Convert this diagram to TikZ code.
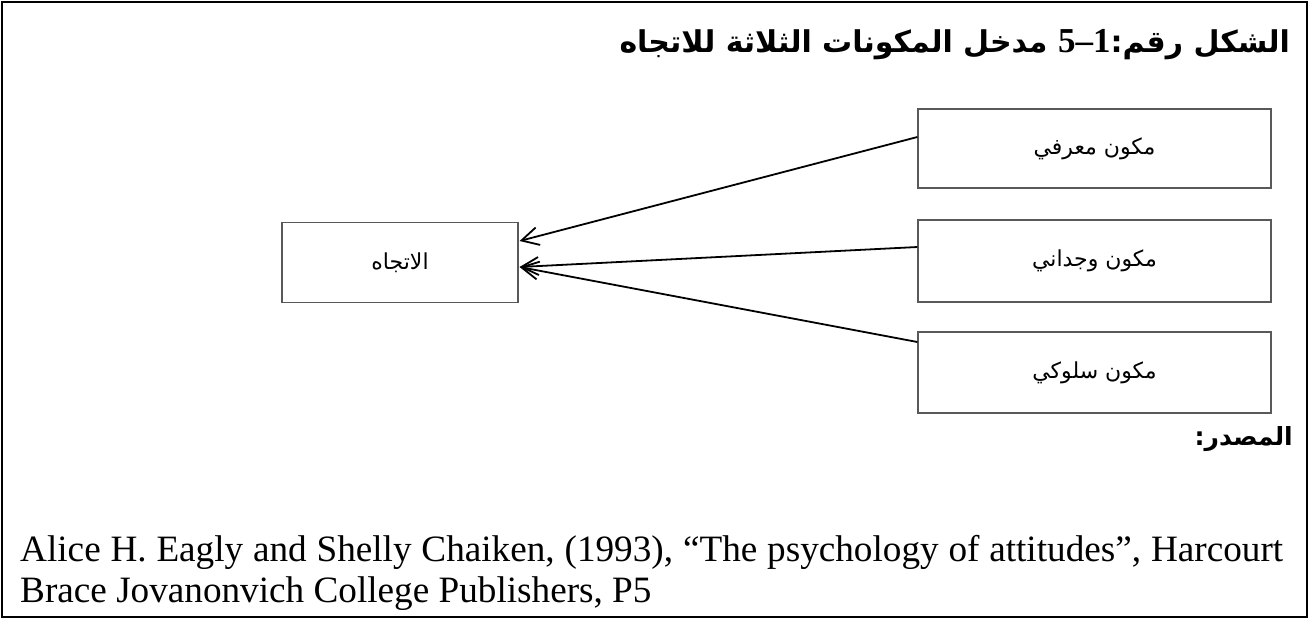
\documentclass[tikz,border=0pt]{standalone}
\usepackage{fontspec}
\setmainfont{Liberation Serif}
\newfontfamily\arabicfont[Script=Arabic]{DejaVu Sans}
\newfontfamily\numfont{Liberation Serif Bold}
\TeXXeTstate=1
\usetikzlibrary{arrows.meta,calc}

\begin{document}
\begin{tikzpicture}[x=1pt,y=-1pt,
  compbox/.style={draw=black!65,line width=1.2pt,minimum height=80pt,inner sep=0pt,
    font=\arabicfont\fontsize{22pt}{26pt}\selectfont},
  link/.style={line width=1.8pt,-{Straight Barb[length=17pt,width=18pt,line width=1.8pt]}},
  cite/.style={anchor=base west,inner sep=0pt,font=\fontsize{37.2pt}{42pt}\selectfont}]
  \useasboundingbox (0,0) rectangle (1310,619);
  % outer frame
  \draw[line width=2pt] (2,2) rectangle (1307,617);

  % title
  \node[anchor=base east,inner sep=0pt,font=\arabicfont\bfseries\fontsize{30pt}{36pt}\selectfont] (title) at (1290,52)
    {\beginR الشكل رقم:\beginL{\numfont\fontsize{35pt}{36pt}\selectfont 5–1}\endL{} مدخل المكونات الثلاثة للاتجاه\endR};

  % attitude and its three components
  \node[compbox,minimum width=236pt] (att) at (400,262.5) {\beginR الاتجاه\endR};
  \node[compbox,minimum width=353pt,minimum height=79pt] (cog) at (1094.5,148.5) {\beginR مكون معرفي\endR};
  \node[compbox,minimum width=353pt,minimum height=82pt] (aff) at (1094.5,261) {\beginR مكون وجداني\endR};
  \node[compbox,minimum width=353pt,minimum height=81pt] (beh) at (1094.5,372.5) {\beginR مكون سلوكي\endR};

  % connectors
  \draw[link] ($(cog.west)+(0,-11.5)$) -- ($(att.east)+(1,-21.5)$);
  \draw[link] ($(aff.west)+(0,-14)$) -- ($(att.east)+(1,4.5)$);
  \draw[link] ($(beh.west)+(0,-30.5)$) -- ($(att.east)+(1,4.5)$);

  % source
  \node[anchor=base east,inner sep=0pt,font=\arabicfont\bfseries\fontsize{25pt}{30pt}\selectfont] (src) at (1293,445)
    {\beginR المصدر:\endR};
  \node[cite] (cite1) at (20,561)
    {\makebox[1263pt][s]{Alice H. Eagly and Shelly Chaiken, (1993), “The psychology of attitudes”, Harcourt}};
  \node[cite] (cite2) at (20,602) {Brace Jovanonvich College Publishers, P5};
\end{tikzpicture}
\end{document}
